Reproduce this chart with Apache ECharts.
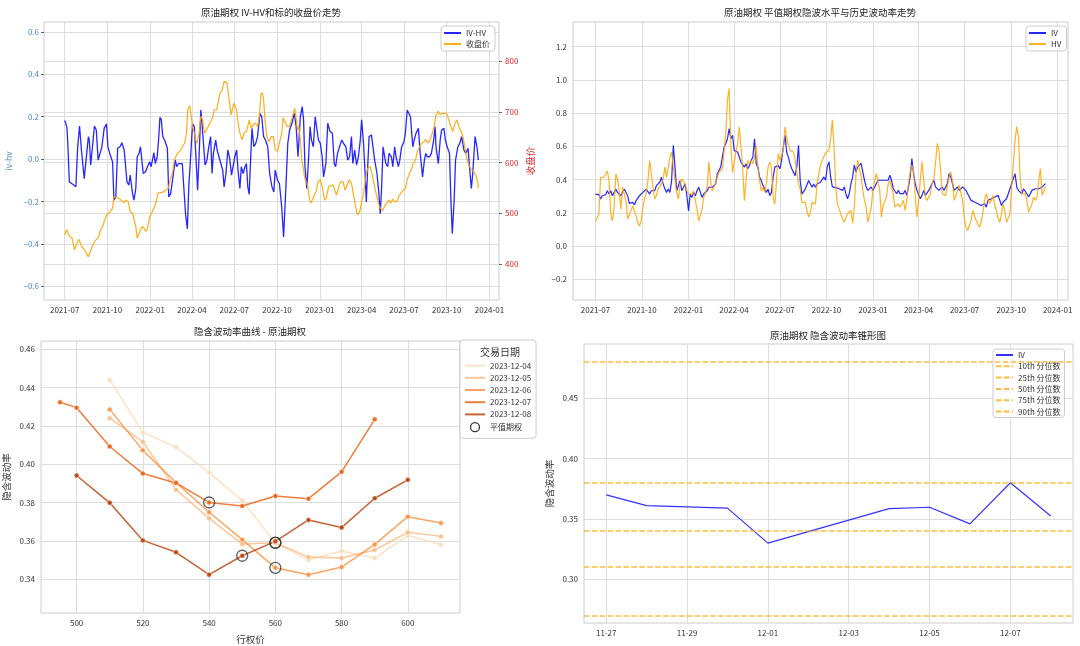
<!DOCTYPE html>
<html>
<head>
<meta charset="utf-8">
<title>原油期权 波动率分析</title>
<script src="https://cdn.jsdelivr.net/npm/echarts@6/dist/echarts.min.js"></script>
<style>
html, body { margin: 0; padding: 0; background: #fff; }
#main { width: 1080px; height: 646px; }
</style>
</head>
<body>
<div id="main"></div>
<script>
// ---------- data ----------
const ONE_DAY = 86400000
const START = '2021-07-01'

// IV-HV (days after START, value)
const ivhvDays = [0,2,5,7,10,15,19,24,28,32,36,42,46,51,53,56,59,64,68,72,76,80,85,90,93,98,103,106,110,114,119,123,128,134,138,141,146,149,153,156,160,163,166,169,174,178,183,186,192,195,199,202,205,208,211,215,221,224,228,233,238,241,245,253,257,260,264,267,271,275,279,282,286,290,293,297,302,306,310,314,317,320,325,328,332,336,340,343,347,351,355,359,363,366,370,373,377,380,384,388,391,394,397,400,403,407,411,415,420,424,428,432,437,441,446,450,453,458,462,467,471,476,480,484,489,494,498,502,507,511,514,517,521,525,528,531,535,539,542,546,550,554,557,562,566,571,576,580,583,587,591,596,600,605,609,613,617,620,624,628,632,636,639,643,646,649,652,655,660,663,667,672,676,679,682,685,688,691,695,698,703,706,710,713,718,721,725,730,733,737,741,744,749,752,756,761,765,770,774,777,780,785,789,794,797,799,804,808,811,816,819,823,828,831,834,838,841,846,850,854,859,863,868,871,875,878,883,887,890]
const ivhvVals = [0.182,0.172,0.145,0.058,-0.107,-0.115,-0.12,-0.131,0.058,0.156,
  0.043,-0.092,-0.005,0.106,0.09,-0.028,-0.021,0.156,0.137,-0.005,
  -0.009,0.058,0.145,0.166,0.058,0.019,-0.013,-0.194,-0.179,0.051,
  0.058,0.077,0.043,-0.107,-0.123,-0.076,-0.163,-0.194,-0.139,0.011,
  0.027,0.058,0.058,-0.068,-0.06,-0.036,-0.013,-0.036,0.03,-0.021,
  0.011,0.09,0.197,0.185,0.106,0.09,0.051,-0.179,-0.163,-0.084,
  -0.005,-0.036,-0.021,-0.021,-0.021,-0.258,-0.329,-0.131,0.011,0.166,
  0.153,0.027,-0.147,0.058,0.232,0.122,-0.028,-0.005,0.058,0.106,
  -0.068,0.027,0.09,0.043,0.011,-0.021,-0.052,-0.131,-0.068,0.043,
  0.003,-0.076,-0.068,0.011,0.043,-0.052,-0.139,-0.036,-0.068,-0.036,
  -0.021,-0.131,-0.167,-0.005,0.145,0.058,0.074,0.106,0.216,0.2,
  0.106,0.09,0.058,-0.068,-0.131,-0.155,-0.052,-0.1,-0.115,-0.226,
  -0.368,-0.131,0.074,0.137,0.169,0.216,0.153,0.011,0.2,0.248,
  0.185,-0.036,-0.139,0.011,0.153,0.09,0.058,0.2,0.209,0.09,
  0.074,0.011,-0.084,-0.021,0.169,0.13,0.122,-0.021,-0.036,0.027,
  0.019,0.09,0.074,0.058,-0.005,0.011,0.106,-0.021,0.043,-0.028,
  0.011,0.09,0.185,0.074,-0.052,-0.202,-0.036,0.106,0.114,0.114,
  -0.005,-0.068,-0.163,-0.258,-0.131,0.058,0.066,-0.021,-0.036,0.027,
  0.011,-0.036,0.058,0.011,-0.036,-0.005,0.058,0.082,0.122,0.232,
  0.24,0.2,0.058,0.09,0.122,0.145,0.027,-0.084,-0.005,0.027,
  0.011,0.011,0.027,0.09,0.153,0.058,-0.021,0.09,0.137,0.145,
  0.09,0.058,0.027,-0.194,-0.352,-0.194,-0.005,0.058,0.074,0.106,
  0.043,0.027,0.051,-0.036,-0.139,-0.068,0.106,0.058,-0.005]

// underlying close price (days after START, price)
const closeDays = [0,4,7,11,16,21,25,30,33,37,42,46,51,55,59,64,68,73,77,82,86,91,97,103,106,110,114,119,123,128,132,137,141,146,150,153,156,160,163,167,171,175,178,183,187,192,197,201,205,210,214,218,223,227,232,236,241,245,250,254,258,262,265,269,272,275,279,282,285,290,293,297,301,305,309,314,318,322,327,330,334,339,343,346,349,352,355,358,361,364,367,370,373,377,382,386,391,394,397,401,406,410,415,419,422,425,428,431,435,440,444,449,453,458,462,467,470,474,478,483,487,492,495,498,501,504,507,510,513,516,520,523,526,529,533,536,541,545,550,554,559,563,568,572,577,581,585,590,594,599,603,608,612,617,621,626,630,635,639,643,648,652,657,661,666,670,675,679,684,688,692,697,701,706,710,715,719,724,728,733,737,742,746,750,755,759,764,768,773,777,782,786,791,795,799,804,808,813,817,822,826,831,835,840,844,848,853,857,862,866,871,875,880,884,889,890]
const closeVals = [457,468,461,454,451,428,428,449,451,434,
  429,429,414,414,434,444,447,453,467,474,
  487,497,502,510,533,533,530,528,524,521,
  526,522,503,500,497,474,451,454,467,474,
  470,464,470,493,500,510,523,540,543,541,
  543,546,549,566,579,605,615,620,625,632,
  638,658,704,712,694,671,658,645,638,664,
  691,684,658,661,671,681,688,704,704,717,
  737,743,760,763,757,737,717,694,697,717,
  717,704,678,658,645,658,661,671,684,668,
  674,678,671,691,734,738,724,684,651,641,
  651,651,625,622,638,658,688,681,671,671,
  681,697,707,688,664,671,645,605,592,572,
  572,553,533,520,526,533,543,562,566,553,
  526,530,553,556,556,553,536,553,562,562,
  546,556,566,559,539,513,497,503,523,539,
  572,589,592,579,556,539,520,510,505,513,
  516,526,520,528,523,523,533,541,543,549,
  566,579,586,599,605,622,632,638,641,645,
  638,645,658,671,694,701,694,697,694,697,
  694,671,661,678,684,671,661,651,625,605,
  592,586,582,576,562,549]

// ATM IV and HV, read about every 3.35 days from START to 2023-12-08
const VOL_END = '2023-12-08'
const atmIV = [0.313,0.303,0.309,0.283,0.303,0.313,0.309,0.333,0.313,0.333,
  0.303,0.323,0.343,0.323,0.333,0.303,0.323,0.343,0.349,0.303,
  0.257,0.253,0.263,0.248,0.273,0.283,0.303,0.313,0.323,0.333,
  0.343,0.333,0.313,0.333,0.343,0.333,0.364,0.354,0.384,0.414,
  0.374,0.343,0.323,0.343,0.323,0.394,0.606,0.475,0.333,0.364,
  0.394,0.333,0.343,0.374,0.303,0.212,0.313,0.293,0.323,0.303,
  0.333,0.354,0.364,0.293,0.313,0.323,0.333,0.354,0.343,0.354,
  0.358,0.374,0.434,0.455,0.475,0.535,0.596,0.616,0.646,0.707,
  0.646,0.667,0.576,0.586,0.566,0.576,0.505,0.515,0.475,0.495,
  0.465,0.485,0.515,0.535,0.646,0.495,0.475,0.414,0.394,0.364,
  0.343,0.323,0.343,0.303,0.323,0.414,0.475,0.465,0.485,0.465,
  0.515,0.596,0.667,0.566,0.535,0.495,0.465,0.455,0.424,0.475,
  0.606,0.394,0.313,0.323,0.343,0.354,0.394,0.374,0.354,0.374,
  0.354,0.374,0.364,0.384,0.394,
  0.416,0.396,0.477,0.507,0.416,0.356,0.36,0.352,0.356,0.345,
  0.352,0.335,0.356,0.315,0.285,0.315,0.376,0.416,0.487,0.446,
  0.477,0.477,0.497,0.446,0.396,0.356,0.335,0.325,0.356,0.335,
  0.345,0.376,0.396,0.386,0.396,0.402,0.396,0.386,0.396,0.426,
  0.396,0.345,0.356,0.315,0.335,0.315,0.325,0.315,0.335,0.305,
  0.356,0.416,0.527,0.436,0.376,0.335,0.325,0.285,0.305,0.335,
  0.305,0.315,0.335,0.325,0.376,0.396,0.356,0.356,0.335,0.345,
  0.356,0.335,0.356,0.376,0.436,0.416,0.406,0.335,0.345,0.356,
  0.335,0.345,0.356,0.345,0.335,0.315,0.305,0.275,0.285,0.265,
  0.265,0.255,0.255,0.244,0.234,0.255,0.234,0.275,0.265,0.285,
  0.275,0.295,0.285,0.305,0.275,0.244,0.265,0.275,0.285,0.315,
  0.345,0.376,0.406,0.436,0.356,0.335,0.335,0.315,0.345,0.335,
  0.315,0.295,0.305,0.335,0.325,0.345,0.356,0.345,0.335,0.356,
  0.366,0.376]
const histHV = [0.151,0.151,0.192,0.414,0.404,0.414,0.434,0.451,0.394,0.192,
  0.151,0.232,0.434,0.404,0.333,0.222,0.354,0.364,0.273,0.162,
  0.151,0.212,0.242,0.212,0.182,0.141,0.121,0.151,0.232,0.283,
  0.323,0.394,0.515,0.525,0.354,0.283,0.303,0.343,0.333,0.374,
  0.404,0.475,0.414,0.414,0.535,0.566,0.475,0.394,0.323,0.283,
  0.374,0.404,0.394,0.374,0.333,0.313,0.303,0.313,0.333,0.273,
  0.222,0.151,0.141,0.222,0.293,0.323,0.354,0.505,0.394,0.333,
  0.354,0.364,0.414,0.444,0.455,0.465,0.475,0.677,0.879,0.95,
  0.616,0.444,0.455,0.566,0.616,0.717,0.596,0.465,0.273,0.394,
  0.515,0.495,0.515,0.495,0.535,0.606,0.475,0.394,0.333,0.354,
  0.323,0.374,0.475,0.505,0.475,0.293,0.253,0.394,0.556,0.515,
  0.545,0.576,0.717,0.646,0.606,0.576,0.566,0.566,0.515,0.505,
  0.374,0.343,0.263,0.263,0.263,0.212,0.174,0.204,0.263,0.263,
  0.253,0.374,0.434,0.485,0.515,
  0.537,0.558,0.568,0.578,0.648,0.76,0.598,0.356,0.255,0.224,
  0.194,0.164,0.143,0.133,0.194,0.204,0.214,0.137,0.234,0.436,
  0.517,0.517,0.416,0.335,0.275,0.234,0.143,0.133,0.234,0.335,
  0.396,0.436,0.446,0.335,0.174,0.244,0.255,0.295,0.376,0.396,
  0.356,0.315,0.234,0.234,0.255,0.234,0.255,0.275,0.214,0.275,
  0.376,0.446,0.487,0.457,0.295,0.174,0.275,0.396,0.507,0.497,
  0.295,0.275,0.275,0.315,0.376,0.406,0.497,0.618,0.578,0.457,
  0.315,0.315,0.305,0.315,0.416,0.446,0.396,0.275,0.275,0.335,
  0.366,0.356,0.275,0.164,0.113,0.093,0.083,0.154,0.214,0.224,
  0.154,0.133,0.113,0.143,0.204,0.275,0.315,0.285,0.255,0.275,
  0.305,0.244,0.214,0.164,0.143,0.194,0.255,0.204,0.143,0.154,
  0.194,0.356,0.497,0.638,0.719,0.659,0.416,0.315,0.315,0.315,
  0.275,0.204,0.204,0.255,0.295,0.275,0.295,0.396,0.467,0.305,
  0.295,0.356]

// implied volatility smile per trading day
const smileDates = ['2023-12-04', '2023-12-05', '2023-12-06', '2023-12-07', '2023-12-08']
const smileStrikes = [
  [510, 520, 530, 540, 550, 560, 570, 580, 590, 600, 610],
  [510, 520, 530, 540, 550, 560, 570, 580, 590, 600, 610],
  [510, 520, 530, 540, 550, 560, 570, 580, 590, 600, 610],
  [495, 500, 510, 520, 530, 540, 550, 560, 570, 580, 590],
  [500, 510, 520, 530, 540, 550, 560, 570, 580, 590, 600]
]
const smileIV = [
  [0.444, 0.4166, 0.4089, 0.3956, 0.381, 0.3589, 0.350, 0.3547, 0.351, 0.3628, 0.358],
  [0.424, 0.4117, 0.3867, 0.3717, 0.3583, 0.359, 0.3515, 0.351, 0.3552, 0.3644, 0.3623],
  [0.4286, 0.4072, 0.3904, 0.3749, 0.3606, 0.3459, 0.3423, 0.3463, 0.3581, 0.3726, 0.3693],
  [0.4323, 0.4295, 0.4092, 0.3951, 0.3902, 0.380, 0.3782, 0.3834, 0.382, 0.396, 0.4234],
  [0.3941, 0.3798, 0.3602, 0.354, 0.3423, 0.3522, 0.3597, 0.3709, 0.3669, 0.3822, 0.3918]
]
const atmStrikes = [560, 560, 560, 540, 550]
const atmSmileIV = [0.3589, 0.359, 0.3459, 0.380, 0.3522]

// volatility cone
const coneDates = ['2023-11-27', '2023-11-28', '2023-11-29', '2023-11-30', '2023-12-01',
  '2023-12-04', '2023-12-05', '2023-12-06', '2023-12-07', '2023-12-08']
const coneIV = [0.370, 0.361, 0.360, 0.359, 0.330, 0.3586, 0.3597, 0.3459, 0.380, 0.3525]
const pctNames = ['10th 分位数', '25th 分位数', '50th 分位数', '75th 分位数', '90th 分位数']
const pctVals = [0.2746, 0.3116, 0.3403, 0.3818, 0.484]

// tick labels
const quarterTicks = ['2021-07-01', '2021-10-01', '2022-01-01', '2022-04-01', '2022-07-01', '2022-10-01',
  '2023-01-01', '2023-04-01', '2023-07-01', '2023-10-01', '2024-01-01']
const ivhvTicks = [-0.6, -0.4, -0.2, 0, 0.2, 0.4, 0.6]
const closeTicks = [400, 500, 600, 700, 800]
const volTicks = [-0.2, 0, 0.2, 0.4, 0.6, 0.8, 1.0, 1.2]
const strikeTicks = [500, 520, 540, 560, 580, 600]
const smileTicks = [0.34, 0.36, 0.38, 0.40, 0.42, 0.44, 0.46]
const coneDayTicks = ['2023-11-27', '2023-11-29', '2023-12-01', '2023-12-03', '2023-12-05', '2023-12-07']
const coneTicks = [0.30, 0.35, 0.40, 0.45]

// ---------- helpers ----------
const FONT = "'Noto Sans CJK SC', 'Noto Sans', sans-serif"
const GRID_LINE = '#dddddd'
const t0 = Date.parse(START)
const tEnd = Date.parse(VOL_END)
const pad2 = n => String(n).padStart(2, '0')
const fmtMonth = v => { const d = new Date(v); return d.getUTCFullYear() + '-' + pad2(d.getUTCMonth() + 1) }
const fmtDay = v => { const d = new Date(v); return pad2(d.getUTCMonth() + 1) + '-' + pad2(d.getUTCDate()) }
const fmtNum = digits => v => (v < 0 ? '\u2212' : '') + Math.abs(v).toFixed(digits)

const volStep = (tEnd - t0) / (atmIV.length - 1)
const volTimes = atmIV.map((v, i) => t0 + i * volStep)
const margin = 0.05 * (tEnd - t0)

function xTimeAxis (gridIndex) {
  return {
    type: 'value', gridIndex: gridIndex, min: t0 - margin, max: tEnd + margin,
    axisLine: {show: false},
    axisTick: {show: false, customValues: quarterTicks.map(Date.parse)},
    axisLabel: {customValues: quarterTicks.map(Date.parse), formatter: fmtMonth, fontSize: 8, color: '#333', fontFamily: FONT, margin: 6},
    splitLine: {show: true, lineStyle: {color: GRID_LINE}}
  }
}

function valueAxis (gridIndex, min, max, ticks, fmt, extra) {
  return Object.assign({
    type: 'value', gridIndex: gridIndex, min: min, max: max,
    axisLine: {show: false},
    axisTick: {show: false, customValues: ticks},
    axisLabel: {customValues: ticks, formatter: fmt, fontSize: 8, color: '#333', fontFamily: FONT, margin: 6},
    splitLine: {show: true, lineStyle: {color: GRID_LINE}}
  }, extra || {})
}

const gridBase = {show: true, borderColor: '#cccccc', borderWidth: 1, backgroundColor: '#fff', containLabel: false, outerBoundsMode: 'none'}
const titleText = {fontSize: 9.5, fontWeight: 'normal', color: '#222', fontFamily: FONT}
const legendText = {fontSize: 8, color: '#333', fontFamily: FONT}
const legendBox = {orient: 'vertical', backgroundColor: '#fff', borderColor: '#cccccc', borderWidth: 1, borderRadius: 3,
  itemWidth: 17, itemHeight: 8, itemGap: 3, textStyle: legendText, itemStyle: {opacity: 0}, selectedMode: false}

const smileColors = ['#fdd9b7', '#fdb97d', '#fd8d3c', '#e95e0d', '#b73c02']

// ---------- series ----------
const series = []
series.push({
  name: 'IV-HV', type: 'line', xAxisIndex: 0, yAxisIndex: 0, symbol: 'none', showSymbol: false,
  data: ivhvDays.map((d, i) => [t0 + d * ONE_DAY, ivhvVals[i]]),
  itemStyle: {color: '#0000ff'}, lineStyle: {color: '#0000ff', width: 1.3, opacity: 0.85}
})
series.push({
  name: '收盘价', type: 'line', xAxisIndex: 0, yAxisIndex: 1, symbol: 'none', showSymbol: false,
  data: closeDays.map((d, i) => [t0 + d * ONE_DAY, closeVals[i]]),
  itemStyle: {color: '#ffa500'}, lineStyle: {color: '#ffa500', width: 1.2, opacity: 0.9}
})
series.push({
  name: 'IV', type: 'line', xAxisIndex: 1, yAxisIndex: 2, symbol: 'none', showSymbol: false,
  data: volTimes.map((t, i) => [t, atmIV[i]]),
  itemStyle: {color: '#0000ff'}, lineStyle: {color: '#0000ff', width: 1.2, opacity: 0.85}
})
series.push({
  name: 'HV', type: 'line', xAxisIndex: 1, yAxisIndex: 2, symbol: 'none', showSymbol: false,
  data: volTimes.map((t, i) => [t, histHV[i]]),
  itemStyle: {color: '#ffa500'}, lineStyle: {color: '#ffa500', width: 1.2, opacity: 0.85}
})
smileDates.forEach((name, k) => {
  series.push({
    name: name, type: 'line', xAxisIndex: 2, yAxisIndex: 3, symbol: 'circle', symbolSize: 5,
    data: smileStrikes[k].map((s, i) => [s, smileIV[k][i]]),
    itemStyle: {color: smileColors[k], borderColor: '#fff', borderWidth: 0.6, opacity: 0.85},
    lineStyle: {color: smileColors[k], width: 1.5, opacity: 0.8}
  })
})
series.push({
  name: '平值期权', type: 'scatter', xAxisIndex: 2, yAxisIndex: 3, symbol: 'circle', symbolSize: 11, z: 5,
  data: atmStrikes.map((s, i) => [s, atmSmileIV[i]]),
  itemStyle: {color: 'rgba(0,0,0,0)', borderColor: '#333', borderWidth: 1.3, opacity: 0.8}
})
series.push({
  name: 'IV ', type: 'line', xAxisIndex: 3, yAxisIndex: 4, symbol: 'none', showSymbol: false,
  data: coneDates.map((d, i) => [Date.parse(d), coneIV[i]]),
  itemStyle: {color: '#0000ff'}, lineStyle: {color: '#0000ff', width: 1.2, opacity: 0.8}
})
pctNames.forEach((name, k) => {
  series.push({
    name: name, type: 'line', xAxisIndex: 3, yAxisIndex: 4, symbol: 'none', data: [],
    itemStyle: {color: '#ffa500'}, lineStyle: {color: '#ffa500', width: 1.5, type: [5.5, 2.4], opacity: 0.75},
    markLine: {
      silent: true, symbol: ['none', 'none'], label: {show: false},
      lineStyle: {color: '#ffa500', width: 1.5, type: [5.5, 2.4], opacity: 0.75},
      data: [{yAxis: pctVals[k]}]
    }
  })
})

const coneMargin = 0.05 * (Date.parse(coneDates[coneDates.length - 1]) - Date.parse(coneDates[0]))

const option = {
  animation: false,
  backgroundColor: '#fff',
  title: [
    {text: '原油期权 IV-HV和标的收盘价走势', left: 271, top: 8, textAlign: 'center', padding: 0, textStyle: titleText},
    {text: '原油期权 平值期权隐波水平与历史波动率走势', left: 820, top: 8, textAlign: 'center', padding: 0, textStyle: titleText},
    {text: '隐含波动率曲线 - 原油期权', left: 250, top: 327, textAlign: 'center', padding: 0, textStyle: titleText},
    {text: '原油期权 隐含波动率锥形图', left: 828, top: 331, textAlign: 'center', padding: 0, textStyle: titleText}
  ],
  grid: [
    Object.assign({left: 44, top: 22, width: 455, height: 278}, gridBase),
    Object.assign({left: 573, top: 22, width: 495, height: 278}, gridBase),
    Object.assign({left: 41, top: 341, width: 419, height: 272}, gridBase),
    Object.assign({left: 584, top: 344, width: 489, height: 279}, gridBase)
  ],
  xAxis: [
    xTimeAxis(0),
    xTimeAxis(1),
    valueAxis(2, 489.25, 615.75, strikeTicks, v => String(v), {
      name: '行权价', nameLocation: 'middle', nameGap: 22,
      nameTextStyle: {fontSize: 9.5, color: '#333', fontFamily: FONT}
    }),
    {
      type: 'value', gridIndex: 3,
      min: Date.parse(coneDates[0]) - coneMargin, max: Date.parse(coneDates[coneDates.length - 1]) + coneMargin,
      axisLine: {show: false},
      axisTick: {show: false, customValues: coneDayTicks.map(Date.parse)},
      axisLabel: {customValues: coneDayTicks.map(Date.parse), formatter: fmtDay, fontSize: 8, color: '#333', fontFamily: FONT, margin: 6},
      splitLine: {show: true, lineStyle: {color: GRID_LINE}}
    }
  ],
  yAxis: [
    valueAxis(0, -0.665, 0.647, ivhvTicks, fmtNum(1), {
      name: 'iv-hv', nameLocation: 'middle', nameGap: 31, nameRotate: 90,
      nameTextStyle: {fontSize: 8.5, color: '#4a8fcc', fontFamily: FONT},
      axisTick: {show: true, length: 3, customValues: ivhvTicks, lineStyle: {color: '#666'}},
      axisLabel: {customValues: ivhvTicks, formatter: fmtNum(1), fontSize: 8, color: '#3f8ad0', fontFamily: FONT, margin: 5}
    }),
    valueAxis(0, 329, 877, closeTicks, v => String(v), {
      position: 'right', name: '收盘价', nameLocation: 'middle', nameGap: 27, nameRotate: 90,
      nameTextStyle: {fontSize: 9.5, color: '#d62728', fontFamily: FONT},
      axisTick: {show: true, length: 3, customValues: closeTicks, lineStyle: {color: '#666'}},
      axisLabel: {customValues: closeTicks, formatter: v => String(v), fontSize: 8, color: '#d62728', fontFamily: FONT, margin: 6}
    }),
    valueAxis(1, -0.325, 1.349, volTicks, fmtNum(1)),
    valueAxis(2, 0.3223, 0.4643, smileTicks, fmtNum(2), {
      name: '隐含波动率', nameLocation: 'middle', nameGap: 30, nameRotate: 90,
      nameTextStyle: {fontSize: 9.5, color: '#333', fontFamily: FONT}
    }),
    valueAxis(3, 0.2638, 0.495, coneTicks, fmtNum(2), {
      name: '隐含波动率', nameLocation: 'middle', nameGap: 30, nameRotate: 90,
      nameTextStyle: {fontSize: 9.5, color: '#333', fontFamily: FONT}
    })
  ],
  legend: [
    Object.assign({}, legendBox, {left: 441, top: 26, padding: [3, 5, 3, 2], data: ['IV-HV', '收盘价']}),
    Object.assign({}, legendBox, {left: 1026, top: 26, padding: [3, 5, 3, 2], data: ['IV', 'HV']}),
    Object.assign({}, legendBox, {
      left: 460, top: 340, padding: [21, 5, 6, 4], itemWidth: 20, itemHeight: 9,
      data: smileDates.concat([{name: '平值期权', icon: 'circle', itemStyle: {opacity: 1, color: 'rgba(0,0,0,0)', borderColor: '#333', borderWidth: 1.3}}])
    }),
    Object.assign({}, legendBox, {
      left: 993, top: 349, padding: [2, 4, 2, 2], itemHeight: 8.5, itemGap: 3.3,
      formatter: name => name.trim(),
      data: ['IV '].concat(pctNames)
    })
  ],
  graphic: [
    {type: 'text', left: 480, top: 347, z: 100,
      style: {text: '交易日期', fontSize: 10, fill: '#333', fontFamily: FONT}}
  ],
  series: series
}

const chart = echarts.init(document.getElementById('main'))
chart.setOption(option)
</script>
</body>
</html>
